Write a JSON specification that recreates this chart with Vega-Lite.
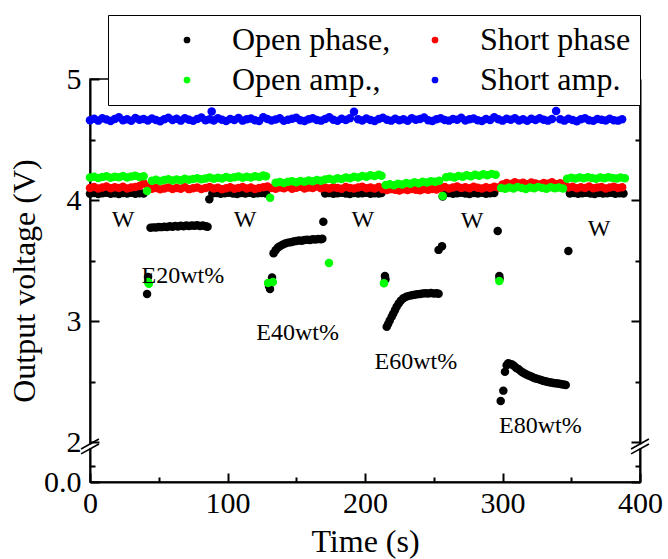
{
  "$schema": "https://vega.github.io/schema/vega-lite/v6.json",
  "width": 550,
  "height": 403,
  "autosize": {"type": "none"},
  "padding": {"left": 90, "top": 79, "right": 28, "bottom": 77},
  "background": "white",
  "config": {
    "view": {"stroke": "black", "strokeWidth": 1.5},
    "axis": {
      "labelFont": "Liberation Serif", "labelFontSize": 30, "labelColor": "black",
      "titleFont": "Liberation Serif", "titleFontSize": 32, "titleFontWeight": "normal", "titleColor": "black",
      "domainColor": "black", "domainWidth": 2, "tickColor": "black", "tickWidth": 2,
      "grid": false, "labelOverlap": false, "labelFlush": false
    },
    "legend": {
      "labelFont": "Liberation Serif", "labelFontSize": 32, "labelColor": "black", "labelLimit": 500,
      "symbolType": "circle", "symbolSize": 45, "symbolStrokeWidth": 0, "rowPadding": 8, "padding": 9
    }
  },
  "datasets": {
    "black": [
      {"t":0,"v":4.052},{"t":3,"v":4.058},{"t":6,"v":4.050},{"t":9,"v":4.056},{"t":12,"v":4.060},{"t":15,"v":4.052},{"t":18,"v":4.056},{"t":21,"v":4.050},{"t":24,"v":4.058},{"t":27,"v":4.054},{"t":30,"v":4.060},{"t":33,"v":4.052},{"t":36,"v":4.056},{"t":39,"v":4.054},
      {"t":41.5,"v":3.224},{"t":42.2,"v":3.364},
      {"t":44,"v":3.770},{"t":46,"v":3.774},{"t":48,"v":3.772},{"t":50,"v":3.778},{"t":52,"v":3.776},{"t":54,"v":3.780},{"t":56,"v":3.778},{"t":58,"v":3.784},{"t":60,"v":3.780},{"t":62,"v":3.786},{"t":64,"v":3.782},{"t":66,"v":3.788},{"t":68,"v":3.784},{"t":70,"v":3.790},{"t":72,"v":3.786},{"t":74,"v":3.790},{"t":76,"v":3.788},{"t":78,"v":3.792},{"t":80,"v":3.786},{"t":82,"v":3.790},{"t":84,"v":3.784},{"t":85.5,"v":3.780},
      {"t":86.8,"v":4.006},
      {"t":89,"v":4.054},{"t":92,"v":4.058},{"t":95,"v":4.052},{"t":98,"v":4.056},{"t":101,"v":4.060},{"t":104,"v":4.054},{"t":107,"v":4.050},{"t":110,"v":4.058},{"t":113,"v":4.054},{"t":116,"v":4.060},{"t":119,"v":4.052},{"t":122,"v":4.056},{"t":125,"v":4.058},{"t":128,"v":4.054},
      {"t":130.2,"v":3.29},{"t":130.9,"v":3.265},{"t":132.4,"v":3.36},
      {"t":133.5,"v":3.56},{"t":135,"v":3.585},{"t":136.5,"v":3.605},{"t":138,"v":3.618},{"t":140,"v":3.630},{"t":142,"v":3.640},{"t":144,"v":3.648},{"t":146,"v":3.652},{"t":148,"v":3.658},{"t":150,"v":3.662},{"t":152,"v":3.666},{"t":154,"v":3.664},{"t":156,"v":3.670},{"t":158,"v":3.672},{"t":160,"v":3.670},{"t":162,"v":3.676},{"t":164,"v":3.674},{"t":166,"v":3.678},{"t":168,"v":3.676},{"t":169,"v":3.680},
      {"t":169.7,"v":3.82},
      {"t":171,"v":4.054},{"t":174,"v":4.058},{"t":177,"v":4.052},{"t":180,"v":4.056},{"t":183,"v":4.060},{"t":186,"v":4.054},{"t":189,"v":4.050},{"t":192,"v":4.058},{"t":195,"v":4.054},{"t":198,"v":4.056},{"t":201,"v":4.060},{"t":204,"v":4.052},{"t":207,"v":4.056},{"t":210,"v":4.054},{"t":212,"v":4.058},
      {"t":214.5,"v":3.372},{"t":214.9,"v":3.345},
      {"t":215.8,"v":2.953},{"t":216.8,"v":2.975},{"t":218,"v":3.005},{"t":219.4,"v":3.036},{"t":220.5,"v":3.06},{"t":221.8,"v":3.09},{"t":223,"v":3.119},{"t":224.5,"v":3.145},{"t":226,"v":3.168},{"t":227.9,"v":3.188},{"t":230,"v":3.200},{"t":232,"v":3.208},{"t":234,"v":3.214},{"t":236,"v":3.218},{"t":238,"v":3.222},{"t":240,"v":3.224},{"t":242,"v":3.228},{"t":244,"v":3.230},{"t":246,"v":3.228},{"t":248,"v":3.232},{"t":250,"v":3.228},{"t":252,"v":3.230},{"t":253.5,"v":3.226},
      {"t":253.5,"v":3.588},{"t":256,"v":3.618},{"t":256.5,"v":4.03},
      {"t":258,"v":4.054},{"t":261,"v":4.058},{"t":264,"v":4.052},{"t":267,"v":4.056},{"t":270,"v":4.060},{"t":273,"v":4.054},{"t":276,"v":4.050},{"t":279,"v":4.058},{"t":282,"v":4.054},{"t":285,"v":4.060},{"t":288,"v":4.052},{"t":291,"v":4.056},{"t":294,"v":4.058},
      {"t":296.5,"v":3.744},{"t":297.7,"v":3.372},{"t":297.9,"v":3.35},
      {"t":298.7,"v":2.34},{"t":300.6,"v":2.425},{"t":301.8,"v":2.58},{"t":303,"v":2.635},{"t":304.2,"v":2.652},{"t":305.5,"v":2.646},{"t":307,"v":2.640},{"t":308.5,"v":2.628},{"t":310,"v":2.612},{"t":311.5,"v":2.604},{"t":313,"v":2.590},{"t":314.5,"v":2.576},{"t":316,"v":2.566},{"t":317.5,"v":2.558},{"t":319,"v":2.550},{"t":320.5,"v":2.544},{"t":322,"v":2.536},{"t":323.5,"v":2.528},{"t":325,"v":2.524},{"t":326.5,"v":2.518},{"t":328,"v":2.512},{"t":329.5,"v":2.506},{"t":331,"v":2.502},{"t":332.5,"v":2.498},{"t":334,"v":2.494},{"t":335.5,"v":2.492},{"t":337,"v":2.488},{"t":338.5,"v":2.486},{"t":340,"v":2.484},{"t":341.5,"v":2.482},{"t":343,"v":2.478},{"t":344.5,"v":2.476},{"t":346,"v":2.472},
      {"t":347.9,"v":3.579},
      {"t":349,"v":4.054},{"t":352,"v":4.058},{"t":355,"v":4.052},{"t":358,"v":4.056},{"t":361,"v":4.060},{"t":364,"v":4.054},{"t":367,"v":4.050},{"t":370,"v":4.058},{"t":373,"v":4.054},{"t":376,"v":4.056},{"t":379,"v":4.060},{"t":382,"v":4.052},{"t":385,"v":4.056},{"t":388,"v":4.054}
    ],
    "red": [
      {"t":0,"v":4.100},{"t":3,"v":4.108},{"t":6,"v":4.096},{"t":9,"v":4.104},{"t":12,"v":4.112},{"t":15,"v":4.098},{"t":18,"v":4.106},{"t":21,"v":4.100},{"t":24,"v":4.110},{"t":27,"v":4.096},{"t":30,"v":4.104},{"t":33,"v":4.108},{"t":36,"v":4.116},{"t":39,"v":4.138},{"t":42,"v":4.112},{"t":45,"v":4.094},{"t":48,"v":4.100},{"t":51,"v":4.088},{"t":54,"v":4.096},{"t":57,"v":4.104},{"t":60,"v":4.092},{"t":63,"v":4.100},{"t":66,"v":4.094},{"t":69,"v":4.106},{"t":72,"v":4.090},{"t":75,"v":4.098},{"t":78,"v":4.104},{"t":81,"v":4.092},{"t":84,"v":4.100},{"t":87,"v":4.108},{"t":90,"v":4.096},{"t":93,"v":4.102},{"t":96,"v":4.090},{"t":99,"v":4.098},{"t":102,"v":4.106},{"t":105,"v":4.094},{"t":108,"v":4.100},{"t":111,"v":4.108},{"t":114,"v":4.096},{"t":117,"v":4.104},{"t":120,"v":4.092},{"t":123,"v":4.100},{"t":126,"v":4.106},{"t":129,"v":4.112},{"t":132,"v":4.100},{"t":135,"v":4.094},{"t":138,"v":4.104},{"t":141,"v":4.098},{"t":144,"v":4.108},{"t":147,"v":4.094},{"t":150,"v":4.102},{"t":153,"v":4.110},{"t":156,"v":4.096},{"t":159,"v":4.104},{"t":162,"v":4.100},{"t":165,"v":4.112},{"t":168,"v":4.098},{"t":171,"v":4.104},{"t":174,"v":4.096},{"t":177,"v":4.106},{"t":180,"v":4.100},{"t":183,"v":4.094},{"t":186,"v":4.108},{"t":189,"v":4.100},{"t":192,"v":4.096},{"t":195,"v":4.104},{"t":198,"v":4.110},{"t":201,"v":4.098},{"t":204,"v":4.104},{"t":207,"v":4.096},{"t":210,"v":4.108},{"t":213,"v":4.090},{"t":216,"v":4.082},{"t":219,"v":4.090},{"t":222,"v":4.084},{"t":225,"v":4.078},{"t":228,"v":4.088},{"t":231,"v":4.082},{"t":234,"v":4.092},{"t":237,"v":4.084},{"t":240,"v":4.080},{"t":243,"v":4.090},{"t":246,"v":4.084},{"t":249,"v":4.092},{"t":252,"v":4.086},{"t":255,"v":4.100},{"t":258,"v":4.108},{"t":261,"v":4.096},{"t":264,"v":4.104},{"t":267,"v":4.112},{"t":270,"v":4.100},{"t":273,"v":4.106},{"t":276,"v":4.098},{"t":279,"v":4.110},{"t":282,"v":4.102},{"t":285,"v":4.096},{"t":288,"v":4.106},{"t":291,"v":4.100},{"t":294,"v":4.110},{"t":297,"v":4.104},{"t":300,"v":4.128},{"t":303,"v":4.140},{"t":306,"v":4.132},{"t":309,"v":4.146},{"t":312,"v":4.136},{"t":315,"v":4.142},{"t":318,"v":4.130},{"t":321,"v":4.144},{"t":324,"v":4.136},{"t":327,"v":4.128},{"t":330,"v":4.140},{"t":333,"v":4.134},{"t":336,"v":4.146},{"t":339,"v":4.130},{"t":342,"v":4.138},{"t":345,"v":4.132},{"t":348,"v":4.104},{"t":351,"v":4.110},{"t":354,"v":4.098},{"t":357,"v":4.106},{"t":360,"v":4.100},{"t":363,"v":4.112},{"t":366,"v":4.098},{"t":369,"v":4.104},{"t":372,"v":4.108},{"t":375,"v":4.096},{"t":378,"v":4.104},{"t":381,"v":4.110},{"t":384,"v":4.100},{"t":387,"v":4.106}
    ],
    "green": [
      {"t":0,"v":4.186},{"t":3,"v":4.192},{"t":6,"v":4.182},{"t":9,"v":4.190},{"t":12,"v":4.196},{"t":15,"v":4.184},{"t":18,"v":4.192},{"t":21,"v":4.188},{"t":24,"v":4.198},{"t":27,"v":4.186},{"t":30,"v":4.194},{"t":33,"v":4.200},{"t":36,"v":4.190},{"t":39,"v":4.196},
      {"t":41.5,"v":4.075},{"t":42.2,"v":3.322},{"t":42.8,"v":3.308},
      {"t":45,"v":4.160},{"t":48,"v":4.168},{"t":51,"v":4.158},{"t":54,"v":4.166},{"t":57,"v":4.172},{"t":60,"v":4.162},{"t":63,"v":4.170},{"t":66,"v":4.164},{"t":69,"v":4.176},{"t":72,"v":4.168},{"t":75,"v":4.174},{"t":78,"v":4.180},{"t":81,"v":4.172},{"t":84,"v":4.178},{"t":87,"v":4.186},{"t":90,"v":4.176},{"t":93,"v":4.184},{"t":96,"v":4.178},{"t":99,"v":4.190},{"t":102,"v":4.182},{"t":105,"v":4.188},{"t":108,"v":4.194},{"t":111,"v":4.184},{"t":114,"v":4.192},{"t":117,"v":4.186},{"t":120,"v":4.196},{"t":123,"v":4.190},{"t":126,"v":4.202},{"t":128,"v":4.196},
      {"t":129.5,"v":3.314},{"t":131,"v":4.018},{"t":133,"v":3.322},
      {"t":135,"v":4.142},{"t":138,"v":4.148},{"t":141,"v":4.140},{"t":144,"v":4.150},{"t":147,"v":4.156},{"t":150,"v":4.146},{"t":153,"v":4.158},{"t":156,"v":4.152},{"t":159,"v":4.162},{"t":162,"v":4.156},{"t":165,"v":4.166},{"t":168,"v":4.160},{"t":171,"v":4.170},
      {"t":173.8,"v":3.48},
      {"t":174,"v":4.176},{"t":177,"v":4.168},{"t":180,"v":4.180},{"t":183,"v":4.174},{"t":186,"v":4.186},{"t":189,"v":4.180},{"t":192,"v":4.192},{"t":195,"v":4.186},{"t":198,"v":4.198},{"t":201,"v":4.192},{"t":204,"v":4.204},{"t":207,"v":4.198},{"t":210,"v":4.208},{"t":212,"v":4.200},
      {"t":213.8,"v":3.312},
      {"t":215,"v":4.124},{"t":218,"v":4.130},{"t":221,"v":4.122},{"t":224,"v":4.134},{"t":227,"v":4.128},{"t":230,"v":4.140},{"t":233,"v":4.134},{"t":236,"v":4.146},{"t":239,"v":4.138},{"t":242,"v":4.150},{"t":245,"v":4.144},{"t":248,"v":4.156},{"t":251,"v":4.150},{"t":254,"v":4.160},
      {"t":256.5,"v":4.034},
      {"t":259,"v":4.188},{"t":262,"v":4.194},{"t":265,"v":4.186},{"t":268,"v":4.198},{"t":271,"v":4.192},{"t":274,"v":4.204},{"t":277,"v":4.196},{"t":280,"v":4.208},{"t":283,"v":4.200},{"t":286,"v":4.212},{"t":289,"v":4.204},{"t":292,"v":4.216},{"t":295,"v":4.208},
      {"t":297.7,"v":3.33},
      {"t":299,"v":4.100},{"t":302,"v":4.094},{"t":305,"v":4.104},{"t":308,"v":4.096},{"t":311,"v":4.108},{"t":314,"v":4.100},{"t":317,"v":4.092},{"t":320,"v":4.104},{"t":323,"v":4.098},{"t":326,"v":4.108},{"t":329,"v":4.100},{"t":332,"v":4.094},{"t":335,"v":4.106},{"t":338,"v":4.098},{"t":341,"v":4.104},{"t":344,"v":4.096},
      {"t":347,"v":4.176},{"t":350,"v":4.184},{"t":353,"v":4.178},{"t":356,"v":4.186},{"t":359,"v":4.180},{"t":362,"v":4.188},{"t":365,"v":4.182},{"t":368,"v":4.176},{"t":371,"v":4.186},{"t":374,"v":4.180},{"t":377,"v":4.188},{"t":380,"v":4.182},{"t":383,"v":4.178},{"t":386,"v":4.186},{"t":389,"v":4.180}
    ],
    "blue": [
      {"t":0,"v":4.660},{"t":3,"v":4.672},{"t":6,"v":4.656},{"t":9,"v":4.676},{"t":12,"v":4.666},{"t":15,"v":4.652},{"t":18,"v":4.670},{"t":21,"v":4.684},{"t":24,"v":4.660},{"t":27,"v":4.668},{"t":30,"v":4.654},{"t":33,"v":4.678},{"t":36,"v":4.664},{"t":39,"v":4.670},{"t":42,"v":4.658},{"t":45,"v":4.674},{"t":48,"v":4.662},{"t":51,"v":4.650},{"t":54,"v":4.668},{"t":57,"v":4.680},{"t":60,"v":4.662},{"t":63,"v":4.672},{"t":66,"v":4.656},{"t":69,"v":4.676},{"t":72,"v":4.664},{"t":75,"v":4.654},{"t":78,"v":4.670},{"t":81,"v":4.682},{"t":84,"v":4.660},{"t":87,"v":4.668},{"t":88.5,"v":4.732},{"t":90,"v":4.658},{"t":93,"v":4.676},{"t":96,"v":4.664},{"t":99,"v":4.652},{"t":102,"v":4.670},{"t":105,"v":4.662},{"t":108,"v":4.678},{"t":111,"v":4.656},{"t":114,"v":4.668},{"t":117,"v":4.674},{"t":120,"v":4.660},{"t":123,"v":4.652},{"t":126,"v":4.684},{"t":129,"v":4.670},{"t":132,"v":4.658},{"t":135,"v":4.666},{"t":138,"v":4.676},{"t":141,"v":4.654},{"t":144,"v":4.664},{"t":147,"v":4.672},{"t":150,"v":4.680},{"t":153,"v":4.660},{"t":156,"v":4.652},{"t":159,"v":4.668},{"t":162,"v":4.676},{"t":165,"v":4.662},{"t":168,"v":4.656},{"t":171,"v":4.670},{"t":174,"v":4.684},{"t":177,"v":4.664},{"t":180,"v":4.654},{"t":183,"v":4.672},{"t":186,"v":4.662},{"t":189,"v":4.676},{"t":192,"v":4.730},{"t":195,"v":4.668},{"t":198,"v":4.658},{"t":201,"v":4.674},{"t":204,"v":4.662},{"t":207,"v":4.652},{"t":210,"v":4.670},{"t":213,"v":4.680},{"t":216,"v":4.664},{"t":219,"v":4.656},{"t":222,"v":4.672},{"t":225,"v":4.660},{"t":228,"v":4.668},{"t":231,"v":4.654},{"t":234,"v":4.676},{"t":237,"v":4.664},{"t":240,"v":4.670},{"t":243,"v":4.682},{"t":246,"v":4.660},{"t":249,"v":4.652},{"t":252,"v":4.668},{"t":255,"v":4.676},{"t":258,"v":4.662},{"t":261,"v":4.656},{"t":264,"v":4.670},{"t":267,"v":4.664},{"t":270,"v":4.680},{"t":273,"v":4.658},{"t":276,"v":4.668},{"t":279,"v":4.674},{"t":282,"v":4.660},{"t":285,"v":4.652},{"t":288,"v":4.670},{"t":291,"v":4.662},{"t":294,"v":4.684},{"t":297,"v":4.668},{"t":300,"v":4.656},{"t":303,"v":4.672},{"t":306,"v":4.664},{"t":309,"v":4.676},{"t":312,"v":4.658},{"t":315,"v":4.668},{"t":318,"v":4.654},{"t":321,"v":4.672},{"t":324,"v":4.662},{"t":327,"v":4.676},{"t":330,"v":4.664},{"t":333,"v":4.656},{"t":336,"v":4.670},{"t":339,"v":4.736},{"t":342,"v":4.668},{"t":345,"v":4.656},{"t":348,"v":4.672},{"t":351,"v":4.662},{"t":354,"v":4.650},{"t":357,"v":4.668},{"t":360,"v":4.676},{"t":363,"v":4.660},{"t":366,"v":4.654},{"t":369,"v":4.670},{"t":372,"v":4.664},{"t":375,"v":4.658},{"t":378,"v":4.672},{"t":381,"v":4.660},{"t":384,"v":4.656},{"t":387,"v":4.668}
    ],
    "notes": [
      {"t":24,"v":3.835,"label":"W"},{"t":112.7,"v":3.835,"label":"W"},{"t":198.5,"v":3.835,"label":"W"},{"t":277.8,"v":3.827,"label":"W"},{"t":370.2,"v":3.76,"label":"W"},
      {"t":67.6,"v":3.372,"label":"E20wt%"},{"t":151,"v":2.901,"label":"E40wt%"},{"t":237,"v":2.662,"label":"E60wt%"},{"t":327.6,"v":2.133,"label":"E80wt%"}
    ],
    "gaps": [
      {"t":0,"v1":1.947,"v2":1.980},{"t":400,"v1":1.947,"v2":1.980}
    ],
    "slashes": [
      {"t1":-6.5,"t2":6.5,"v1":1.943,"v2":2.025},{"t1":-6.5,"t2":6.5,"v1":1.902,"v2":1.984},
      {"t1":393.5,"t2":406.5,"v1":1.943,"v2":2.025},{"t1":393.5,"t2":406.5,"v1":1.902,"v2":1.984}
    ]
  },
  "resolve": {"scale": {"x": "shared", "y": "shared"}, "axis": {"x": "independent", "y": "independent"}},
  "layer": [
    {
      "data": {"name": "blue"},
      "mark": {"type": "point", "filled": true, "size": 72, "opacity": 1},
      "encoding": {
        "x": {"field": "t", "type": "quantitative", "scale": {"domain": [0, 400], "nice": false, "zero": false}, "axis": null},
        "y": {"field": "v", "type": "quantitative", "scale": {"domain": [1.67, 5], "nice": false, "zero": false},
          "axis": {"orient": "right", "title": null, "labels": false, "values": [1.67,1.8,2,2.5,3,3.5,4,4.5,5],
            "tickSize": {"condition": {"test": "datum.value % 1 === 0 || datum.value < 1.7", "value": -9}, "value": -5}}},
        "fill": {"datum": "Short amp.", "type": "nominal",
          "scale": {"domain": ["Short phase", "Short amp."], "range": ["#ff0000", "#0000ff"]},
          "legend": {"orient": "none", "legendX": 18, "legendY": -64, "direction": "vertical", "title": null,
            "fillColor": "white", "strokeColor": "black", "symbolOffset": 302, "labelOffset": 29}}
      }
    },
    {
      "data": {"name": "black"},
      "mark": {"type": "point", "filled": true, "size": 72, "opacity": 1},
      "encoding": {
        "x": {"field": "t", "type": "quantitative", "scale": {"domain": [0, 400], "nice": false, "zero": false},
          "axis": {"orient": "bottom", "title": "Time (s)", "values": [0,100,200,300,400],
            "tickSize": -9, "labelPadding": 15, "titlePadding": 8}},
        "y": {"field": "v", "type": "quantitative", "scale": {"domain": [1.67, 5], "nice": false, "zero": false},
          "axis": {"title": "Output voltage (V)", "orient": "left", "values": [1.67,1.8,2,2.5,3,3.5,4,4.5,5],
            "labelExpr": "datum.value < 1.7 ? '0.0' : (datum.value % 1 === 0 ? format(datum.value, 'd') : '')",
            "tickSize": {"condition": {"test": "datum.value % 1 === 0 || datum.value < 1.7", "value": -9}, "value": -5},
            "labelPadding": 18, "titlePadding": 2}},
        "color": {"datum": "Open phase,", "type": "nominal",
          "scale": {"domain": ["Open phase,", "Open amp.,"], "range": ["#000000", "#00ff00"]},
          "legend": {"orient": "none", "legendX": 18, "legendY": -64, "direction": "vertical", "title": null,
            "symbolOffset": 54, "labelOffset": 29}}
      }
    },
    {
      "data": {"name": "red"},
      "mark": {"type": "point", "filled": true, "size": 72, "opacity": 1},
      "encoding": {
        "x": {"field": "t", "type": "quantitative", "scale": {"domain": [0, 400], "nice": false, "zero": false},
          "axis": {"orient": "bottom", "title": null, "labels": false, "domain": false, "values": [50,150,250,350], "tickSize": -5}},
        "y": {"field": "v", "type": "quantitative", "scale": {"domain": [1.67, 5], "nice": false, "zero": false}, "axis": null},
        "fill": {"datum": "Short phase", "type": "nominal"}
      }
    },
    {
      "data": {"name": "green"},
      "mark": {"type": "point", "filled": true, "size": 72, "opacity": 1},
      "encoding": {
        "x": {"field": "t", "type": "quantitative", "scale": {"domain": [0, 400], "nice": false, "zero": false}, "axis": null},
        "y": {"field": "v", "type": "quantitative", "scale": {"domain": [1.67, 5], "nice": false, "zero": false}, "axis": null},
        "color": {"datum": "Open amp.,", "type": "nominal"}
      }
    },
    {
      "data": {"name": "notes"},
      "mark": {"type": "text", "font": "Liberation Serif", "fontSize": 24, "align": "center", "baseline": "middle", "color": "black"},
      "encoding": {
        "x": {"field": "t", "type": "quantitative", "scale": {"domain": [0, 400], "nice": false, "zero": false}, "axis": null},
        "y": {"field": "v", "type": "quantitative", "scale": {"domain": [1.67, 5], "nice": false, "zero": false}, "axis": null},
        "text": {"field": "label", "type": "nominal"}
      }
    },
    {
      "data": {"name": "gaps"},
      "mark": {"type": "rule", "color": "white", "strokeWidth": 5},
      "encoding": {
        "x": {"field": "t", "type": "quantitative", "scale": {"domain": [0, 400], "nice": false, "zero": false}, "axis": null},
        "y": {"field": "v1", "type": "quantitative", "scale": {"domain": [1.67, 5], "nice": false, "zero": false}, "axis": null},
        "y2": {"field": "v2"}
      }
    },
    {
      "data": {"name": "slashes"},
      "mark": {"type": "rule", "color": "black", "strokeWidth": 1.6},
      "encoding": {
        "x": {"field": "t1", "type": "quantitative", "scale": {"domain": [0, 400], "nice": false, "zero": false}, "axis": null},
        "x2": {"field": "t2"},
        "y": {"field": "v1", "type": "quantitative", "scale": {"domain": [1.67, 5], "nice": false, "zero": false}, "axis": null},
        "y2": {"field": "v2"}
      }
    }
  ]
}
